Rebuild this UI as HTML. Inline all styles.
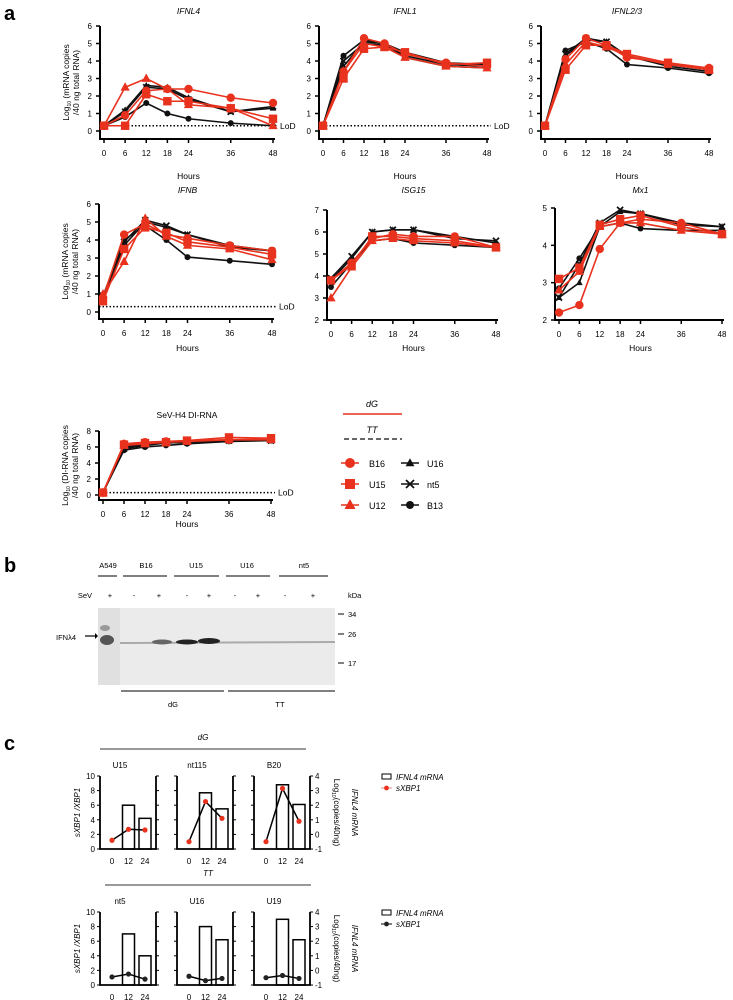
<!DOCTYPE html>
<html><head><meta charset="utf-8"><style>
body{margin:0;background:#fff;}
svg{display:block;font-family:"Liberation Sans",sans-serif;}
</style></head><body>
<svg id="fig" width="733" height="1000" viewBox="0 0 733 1000">
<text x="4" y="20" font-size="20" font-weight="bold">a</text>
<text x="4" y="572" font-size="20" font-weight="bold">b</text>
<text x="4" y="750" font-size="20" font-weight="bold">c</text>
<g id="charts"></g>
<g font-size="9">
<text x="372" y="407" text-anchor="middle" font-style="italic">dG</text>
<line x1="343" y1="414" x2="402" y2="414" stroke="#e8321e" stroke-width="1.5"/>
<text x="372" y="433" text-anchor="middle" font-style="italic">TT</text>
<line x1="344" y1="439" x2="402" y2="439" stroke="#333" stroke-width="1.5" stroke-dasharray="5,3"/>
<g id="legmarks"></g>
<text x="369" y="467">B16</text><text x="369" y="488">U15</text><text x="369" y="509">U12</text>
<text x="427" y="467">U16</text><text x="427" y="488">nt5</text><text x="427" y="509">B13</text>
</g>
<g font-size="7.5">
<text x="108" y="568" text-anchor="middle">A549</text>
<line x1="98" y1="576" x2="117" y2="576" stroke="#000" stroke-width="1"/>
<text x="146" y="568" text-anchor="middle">B16</text><line x1="123" y1="576" x2="167" y2="576" stroke="#000"/>
<text x="196" y="568" text-anchor="middle">U15</text><line x1="174" y1="576" x2="219" y2="576" stroke="#000"/>
<text x="247" y="568" text-anchor="middle">U16</text><line x1="226" y1="576" x2="270" y2="576" stroke="#000"/>
<text x="304" y="568" text-anchor="middle">nt5</text><line x1="279" y1="576" x2="328" y2="576" stroke="#000"/>
<text x="92" y="598" text-anchor="end">SeV</text>
<g text-anchor="middle"><text x="110" y="598">+</text><text x="134" y="598">-</text><text x="159" y="598">+</text><text x="187" y="598">-</text><text x="209" y="598">+</text><text x="235" y="598">-</text><text x="258" y="598">+</text><text x="285" y="598">-</text><text x="313" y="598">+</text></g>
<text x="348" y="598">kDa</text>
<rect x="98" y="608" width="22" height="77" fill="#e0e0e0"/>
<rect x="120" y="608" width="215" height="77" fill="#ebebeb"/>
<ellipse cx="107" cy="640" rx="7" ry="5" fill="#555"/>
<ellipse cx="105" cy="628" rx="5" ry="3" fill="#999"/>
<line x1="120" y1="643" x2="335" y2="642" stroke="#aaa" stroke-width="2"/>
<ellipse cx="162" cy="642" rx="10" ry="2.5" fill="#666"/>
<ellipse cx="187" cy="642" rx="11" ry="2.5" fill="#222"/>
<ellipse cx="209" cy="641" rx="11" ry="3" fill="#222"/>
<text x="56" y="640">IFNλ4</text>
<line x1="85" y1="636" x2="95" y2="636" stroke="#000" stroke-width="1.2"/><path d="M95,633 L98,636 L95,639Z"/>
<line x1="338" y1="614" x2="344" y2="614" stroke="#000"/><text x="348" y="617">34</text>
<line x1="338" y1="634" x2="344" y2="634" stroke="#000"/><text x="348" y="637">26</text>
<line x1="338" y1="663" x2="344" y2="663" stroke="#000"/><text x="348" y="666">17</text>
<line x1="121" y1="691" x2="224" y2="691" stroke="#000"/><line x1="228" y1="691" x2="335" y2="691" stroke="#000"/>
<text x="173" y="707" text-anchor="middle">dG</text><text x="280" y="707" text-anchor="middle">TT</text>
</g>
<g id="panelc" font-size="8"></g>
</svg>
<script>
const NS="http://www.w3.org/2000/svg";
function mk(p,tag,at){const e=document.createElementNS(NS,tag);for(const k in at)e.setAttribute(k,at[k]);p.appendChild(e);return e;}
const RED="#e8321e",BLK="#111";
const hours=[0,6,12,18,24,36,48];
const xTicks=[0,6,12,18,24,36,48];
const seriesNames=["B16","U15","U12","U16","nt5","B13"];
const seriesShapes=["circle","square","triangle","triangle","cross","circle"];
const ifnl4B16=[0.3,0.9,2.3,2.4,2.4,1.9,1.6];
const ifnl4U15=[0.3,0.3,2.1,1.7,1.7,1.3,0.7];
const ifnl4U12=[0.3,2.5,3.0,2.4,1.5,1.3,0.3];
const ifnl4U16=[0.3,1.2,2.6,2.5,1.9,1.1,1.3];
const ifnl4nt5=[0.3,1.1,2.5,2.4,1.8,1.1,1.4];
const ifnl4B13=[0.3,0.8,1.6,1.0,0.7,0.45,0.3];
const ifnl1B16=[0.3,3.4,5.3,5.0,4.4,3.9,3.7];
const ifnl1U15=[0.3,3.0,4.7,4.8,4.5,3.8,3.9];
const ifnl1U12=[0.3,3.4,5.0,4.8,4.2,3.7,3.6];
const ifnl1U16=[0.3,3.7,5.1,5.0,4.5,3.9,3.8];
const ifnl1nt5=[0.3,4.0,5.0,4.9,4.3,3.8,3.7];
const ifnl1B13=[0.3,4.3,5.2,5.0,4.2,3.7,3.6];
const ifnl23B16=[0.3,4.1,5.3,4.9,4.2,3.9,3.6];
const ifnl23U15=[0.3,3.5,4.9,4.9,4.4,3.9,3.5];
const ifnl23U12=[0.3,3.8,5.1,4.8,4.3,3.8,3.5];
const ifnl23U16=[0.3,4.3,5.2,5.1,4.3,3.8,3.5];
const ifnl23nt5=[0.3,4.4,5.3,5.1,4.3,3.7,3.4];
const ifnl23B13=[0.3,4.6,5.1,4.7,3.8,3.6,3.3];
const ifnbB16=[0.8,4.3,4.9,4.3,4.1,3.7,3.4];
const ifnbU15=[0.6,3.5,4.7,4.4,3.9,3.6,3.2];
const ifnbU12=[1.0,2.8,5.2,4.2,3.7,3.5,2.9];
const ifnbU16=[0.6,3.7,5.0,4.7,4.3,3.6,3.4];
const ifnbnt5=[0.9,3.9,5.1,4.8,4.3,3.7,3.4];
const ifnbB13=[0.8,4.0,4.8,4.0,3.05,2.85,2.65];
const isgB16=[3.8,4.6,5.7,5.9,5.8,5.8,5.3];
const isgU15=[3.8,4.5,5.8,5.8,5.7,5.6,5.3];
const isgU12=[3.0,4.4,5.6,5.7,5.6,5.5,5.3];
const isgU16=[3.8,4.8,6.0,6.1,6.1,5.8,5.5];
const isgnt5=[3.9,4.9,6.0,6.1,6.1,5.7,5.6];
const isgB13=[3.5,4.6,5.6,5.7,5.5,5.4,5.3];
const mx1B16=[2.2,2.4,3.9,4.6,4.7,4.6,4.3];
const mx1U15=[3.1,3.4,4.55,4.7,4.8,4.5,4.3];
const mx1U12=[2.8,3.3,4.5,4.6,4.6,4.4,4.3];
const mx1U16=[2.6,3.0,4.5,4.9,4.85,4.6,4.5];
const mx1nt5=[2.6,3.5,4.6,4.95,4.85,4.55,4.5];
const mx1B13=[2.85,3.65,4.5,4.6,4.45,4.4,4.4];
const sevB16=[0.3,6.4,6.6,6.7,6.8,6.9,7.0];
const sevU15=[0.3,6.3,6.5,6.6,6.8,7.2,7.1];
const sevU12=[0.3,6.2,6.4,6.6,6.7,6.9,6.9];
const sevU16=[0.3,6.0,6.3,6.5,6.6,6.9,6.9];
const sevnt5=[0.3,5.8,6.2,6.5,6.6,6.8,6.8];
const sevB13=[0.3,5.6,6.0,6.2,6.4,6.7,6.8];

function marker(g,shape,x,y,col,s){
  let e;
  if(shape==="circle")e=mk(g,"circle",{cx:x,cy:y,r:s,fill:col});
  else if(shape==="square")e=mk(g,"rect",{x:x-s,y:y-s,width:2*s,height:2*s,fill:col});
  else if(shape==="triangle")e=mk(g,"path",{d:`M${x},${y-s*1.2}L${x+s*1.1},${y+s*0.8}L${x-s*1.1},${y+s*0.8}Z`,fill:col});
  else {e=mk(g,"path",{d:`M${x-s},${y-s}L${x+s},${y+s}M${x+s},${y-s}L${x-s},${y+s}`,stroke:col,"stroke-width":1.8});}
  return e;
}
function timePlot(o){
  const g=mk(document.getElementById("charts"),"g",{});
  
  
  const X=v=>o.x0+(v-0)/48*(o.x1-o.x0);
  const Y=v=>o.yb+(v-o.ymin)/(o.ymax-o.ymin)*(o.yt-o.yb);
  const t=mk(g,"text",{x:(o.x0+o.x1)/2,y:o.titleY,"font-size":8.5,"text-anchor":"middle","font-style":o.ital?"italic":"normal"});t.textContent=o.title;
  
  const ax=o.x0-4, ay=o.axY;
  mk(g,"path",{d:`M${ax},${Y(o.ymax)}L${ax},${ay}L${o.x1+2},${ay}`,fill:"none",stroke:"#000","stroke-width":2});
  const step=o.step||1;
  for(let v=o.ymin;v<=o.ymax;v+=step){mk(g,"line",{x1:ax-4,x2:ax,y1:Y(v),y2:Y(v),stroke:"#000","stroke-width":1.5});
    const l=mk(g,"text",{x:ax-8,y:Y(v)+3,"font-size":8,"text-anchor":"end"});l.textContent=v;
    }
  xTicks.forEach(v=>{mk(g,"line",{x1:X(v),x2:X(v),y1:ay,y2:ay+4,stroke:"#000","stroke-width":1.5});
    const l=mk(g,"text",{x:X(v),y:ay+17,"font-size":8,"text-anchor":"middle"});l.textContent=v;
    });
  const h=mk(g,"text",{x:(o.x0+o.x1)/2,y:o.hoursY,"font-size":8.5,"text-anchor":"middle"});h.textContent="Hours";
  
  if(o.lod){mk(g,"line",{x1:ax,x2:o.x1+4,y1:Y(0.3),y2:Y(0.3),stroke:"#000","stroke-width":1.5,"stroke-dasharray":"1.5,2"});
    const l=mk(g,"text",{x:o.x1+7,y:Y(0.3)+3,"font-size":8.5});l.textContent="LoD";
    }
  if(o.ylab){const yl=mk(g,"text",{transform:`translate(${ax-26},${(Y(o.ymax)+ay)/2}) rotate(-90)`,"font-size":8.5,"text-anchor":"middle"});
    yl.innerHTML=`<tspan x="0" dy="-5">Log<tspan font-size="5" dy="2">10</tspan><tspan dy="-2"> ${o.ylab[0]}</tspan></tspan><tspan x="0" dy="10">${o.ylab[1]}</tspan>`;
    }
  const order=[5,4,3,0,1,2];
  order.forEach(i=>{const d=o.data[i];const col=i<3?RED:BLK;
    const sg=mk(g,"g",{});
    mk(sg,"polyline",{points:d.map((v,j)=>X(hours[j])+","+Y(v)).join(" "),fill:"none",stroke:col,"stroke-width":1.6});
    d.forEach((v,j)=>{const m=marker(sg,seriesShapes[i],X(hours[j]),Y(v),col,i<3?4.2:3);
      });
  });
}
const YL=["(mRNA copies","/40 ng total RNA)"];
timePlot({name:"ifnl4",title:"IFNL4",ital:1,titleY:14,hoursY:179,x0:104,x1:273,yb:131,yt:26,ymin:0,ymax:6,axY:139,lod:1,ylab:YL,data:[ifnl4B16,ifnl4U15,ifnl4U12,ifnl4U16,ifnl4nt5,ifnl4B13]});
timePlot({name:"ifnl1",title:"IFNL1",ital:1,titleY:14,hoursY:179,x0:323,x1:487,yb:131,yt:26,ymin:0,ymax:6,axY:139,lod:1,data:[ifnl1B16,ifnl1U15,ifnl1U12,ifnl1U16,ifnl1nt5,ifnl1B13]});
timePlot({name:"ifnl23",title:"IFNL2/3",ital:1,titleY:14,hoursY:179,x0:545,x1:709,yb:131,yt:26,ymin:0,ymax:6,axY:139,data:[ifnl23B16,ifnl23U15,ifnl23U12,ifnl23U16,ifnl23nt5,ifnl23B13]});
timePlot({name:"ifnb",title:"IFNB",ital:1,titleY:193,hoursY:351,x0:103,x1:272,yb:312,yt:204,ymin:0,ymax:6,axY:319,lod:1,ylab:YL,data:[ifnbB16,ifnbU15,ifnbU12,ifnbU16,ifnbnt5,ifnbB13]});
timePlot({name:"isg15",title:"ISG15",ital:1,titleY:193,hoursY:351,x0:331,x1:496,yb:320,yt:210,ymin:2,ymax:7,axY:320,data:[isgB16,isgU15,isgU12,isgU16,isgnt5,isgB13]});
timePlot({name:"mx1",title:"Mx1",ital:1,titleY:193,hoursY:351,x0:559,x1:722,yb:320,yt:208,ymin:2,ymax:5,axY:320,data:[mx1B16,mx1U15,mx1U12,mx1U16,mx1nt5,mx1B13]});
timePlot({name:"sev-di-rna",title:"SeV-H4 DI-RNA",titleY:418,hoursY:527,x0:103,x1:271,yb:495,yt:431,ymin:0,ymax:8,step:2,axY:500,lod:1,ylab:["(DI-RNA copies","/40 ng total RNA)"],data:[sevB16,sevU15,sevU12,sevU16,sevnt5,sevB13]});
const lg=document.getElementById("legmarks");
[[350,463],[350,484],[350,505],[410,463],[410,484],[410,505]].forEach((p,i)=>{
  const col=i<3?RED:BLK;mk(lg,"line",{x1:p[0]-9,x2:p[0]+9,y1:p[1],y2:p[1],stroke:col,"stroke-width":1.5});
  const m=marker(lg,seriesShapes[i],p[0],p[1],col,i<3?5:4);
  });

const pcTimes=[0,12,24];
const dgNames=["U15","nt115","B20"];
const ttNames=["nt5","U16","U19"];
const dgBars=[[6.0,4.2],[7.7,5.5],[8.8,6.1]];
const dgXbp=[[1.2,2.7,2.6],[1.0,6.5,4.2],[1.0,8.3,3.8]];
const ttBars=[[7.0,4.0],[8.0,6.2],[9.0,6.2]];
const ttXbp=[[1.1,1.5,0.8],[1.2,0.6,0.9],[1.0,1.3,0.9]];
const pc=document.getElementById("panelc");
function cRow(yTop,yBot,names,bars,xbp,col,label,lineX0,lineX1){
  const g=mk(pc,"g",{});
  const lt=mk(g,"text",{x:(lineX0+lineX1)/2,y:yTop-36,"text-anchor":"middle","font-style":"italic"});lt.textContent=label;
  mk(g,"line",{x1:lineX0,x2:lineX1,y1:yTop-27,y2:yTop-27,stroke:"#333","stroke-width":1});
  const Y=v=>yBot+(v/10)*(yTop-yBot);
  [100,177,254].forEach((x0,k)=>{
    const w=56,X=t=>x0+12+t/24*33;
    const sg=mk(g,"g",{});
    const tt=mk(sg,"text",{x:x0+20,y:yTop-8,"text-anchor":"middle"});tt.textContent=names[k];
    bars[k].forEach((v,j)=>{const r=mk(sg,"rect",{x:X(pcTimes[j+1])-6,y:Y(v),width:12,height:yBot-Y(v),fill:"#fff",stroke:"#000","stroke-width":1.5});
      });
    mk(sg,"path",{d:`M${x0},${yTop}L${x0},${yBot}L${x0+w},${yBot}L${x0+w},${yTop}`,fill:"none",stroke:"#000","stroke-width":1.8});
    for(let v=0;v<=10;v+=2){mk(sg,"line",{x1:x0-3,x2:x0,y1:Y(v),y2:Y(v),stroke:"#000"});mk(sg,"line",{x1:x0+w,x2:x0+w+3,y1:Y(v),y2:Y(v),stroke:"#000"});
      if(k===0){const l=mk(sg,"text",{x:x0-5,y:Y(v)+3,"text-anchor":"end"});l.textContent=v;}}
    if(k===2){for(let v=-1;v<=4;v++){const yy=yBot+(v+1)/5*(yTop-yBot);const l=mk(sg,"text",{x:x0+w+5,y:yy+3});l.textContent=v;}}
    pcTimes.forEach(t=>{const l=mk(sg,"text",{x:X(t),y:yBot+15,"text-anchor":"middle"});l.textContent=t;});
    mk(sg,"polyline",{points:xbp[k].map((v,j)=>X(pcTimes[j])+","+Y(v)).join(" "),fill:"none",stroke:"#000","stroke-width":1.5});
    xbp[k].forEach((v,j)=>{const c=mk(sg,"circle",{cx:X(pcTimes[j]),cy:Y(v),r:2.6,fill:col});
      });
  });
  const yl=mk(g,"text",{transform:`translate(80,${(yTop+yBot)/2}) rotate(-90)`,"text-anchor":"middle","font-style":"italic"});yl.textContent="sXBP1 /XBP1";
  const yr=mk(g,"text",{transform:`translate(334,${(yTop+yBot)/2}) rotate(90)`,"text-anchor":"middle"});yr.innerHTML='Log<tspan font-size="5" dy="2">10</tspan><tspan dy="-2">(copies/40ng)</tspan>';
  const yr2=mk(g,"text",{transform:`translate(352,${(yTop+yBot)/2}) rotate(90)`,"text-anchor":"middle","font-style":"italic"});yr2.textContent="IFNL4 mRNA";
  mk(g,"rect",{x:382,y:yTop-2,width:9,height:5,fill:"#fff",stroke:"#000"});
  const a=mk(g,"text",{x:396,y:yTop+4,"font-style":"italic"});a.textContent="IFNL4 mRNA";
  mk(g,"line",{x1:381,x2:392,y1:yTop+12,y2:yTop+12,stroke:col==="#e8321e"?"#e88":"#000"});
  mk(g,"circle",{cx:386.5,cy:yTop+12,r:2.4,fill:col});
  const b=mk(g,"text",{x:396,y:yTop+15,"font-style":"italic"});b.textContent="sXBP1";
}
cRow(776,849,dgNames,dgBars,dgXbp,RED,"dG",100,306);
cRow(912,985,ttNames,ttBars,ttXbp,"#222","TT",105,311);
</script>
</body></html>
